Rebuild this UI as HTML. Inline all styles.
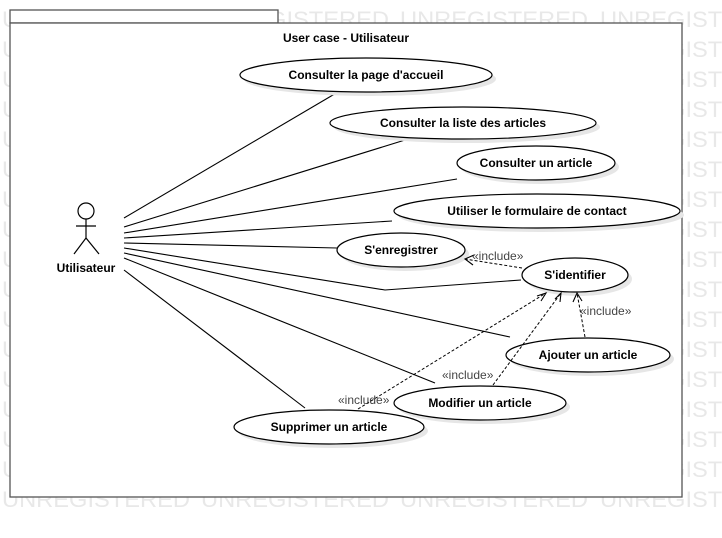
<!DOCTYPE html>
<html><head><meta charset="utf-8"><style>
html,body{margin:0;padding:0;background:#fff;}
svg{display:block;}
text{font-family:"Liberation Sans",Arial,sans-serif;}
.wm{fill:#e8e8e8;font-size:22px;}
.uc{fill:#fff;stroke:#000;stroke-width:1.2;}
.sh{fill:#e6e6e6;}
.lb{font-size:12px;font-weight:bold;fill:#000;text-anchor:middle;}
.as{stroke:#000;stroke-width:1.1;fill:none;}
.dp{stroke:#000;stroke-width:1;stroke-dasharray:3,2;fill:none;}
.inc{font-size:12px;fill:#444;}
</style></head><body>
<svg width="722" height="538" viewBox="0 0 722 538">
<g id="wm"></g>
<rect x="10" y="10" width="268" height="13" fill="#fff" stroke="#555" stroke-width="1.3"/>
<rect x="10" y="23" width="672" height="474" fill="#fff" stroke="#555" stroke-width="1.3"/>
<text x="346" y="42" text-anchor="middle" font-size="12" font-weight="bold">User case - Utilisateur</text>

<g stroke="#000" stroke-width="1.2" fill="none">
<circle cx="86" cy="211" r="8" fill="#fff"/>
<line x1="86" y1="219" x2="86" y2="238"/>
<line x1="76" y1="226" x2="96" y2="226"/>
<line x1="86" y1="238" x2="74" y2="254"/>
<line x1="86" y1="238" x2="99" y2="254"/>
</g>
<text x="86" y="272" class="lb">Utilisateur</text>

<g>
<line class="as" x1="124" y1="218" x2="338" y2="92"/>
<line class="as" x1="124" y1="227" x2="405" y2="140"/>
<line class="as" x1="124" y1="233" x2="457" y2="179"/>
<line class="as" x1="124" y1="238" x2="392" y2="221"/>
<line class="as" x1="124" y1="243" x2="337" y2="248"/>
<polyline class="as" points="124,248 385,290 521,280"/>
<line class="as" x1="124" y1="253" x2="510" y2="337"/>
<line class="as" x1="124" y1="258" x2="435" y2="383"/>
<line class="as" x1="124" y1="270" x2="305" y2="408"/>
</g>

<g id="ucs"></g>

<g>
<line class="dp" x1="522" y1="268" x2="465" y2="259"/>
<polyline class="as" points="474,255 465,259 473,265"/>
<text class="inc" x="472" y="260">«include»</text>
<line class="dp" x1="585" y1="337" x2="577" y2="293"/>
<polyline class="as" points="573,302 577,293 582,301"/>
<text class="inc" x="580" y="315">«include»</text>
<line class="dp" x1="493" y1="385" x2="561" y2="293"/>
<polyline class="as" points="555,299 561,293 560,302"/>
<text class="inc" x="442" y="379">«include»</text>
<line class="dp" x1="358" y1="409" x2="546" y2="293"/>
<polyline class="as" points="537,296 546,293 541,301"/>
<text class="inc" x="338" y="404">«include»</text>
</g>
</svg>
<script>
var NS="http://www.w3.org/2000/svg";
var wm=document.getElementById('wm');
var wmX=[2,201,400,600];
for(var y=27;y<=510;y+=30){
  wmX.forEach(function(x){
    var t=document.createElementNS(NS,'text');
    t.setAttribute('x',x);t.setAttribute('y',y);t.setAttribute('class','wm');
    t.setAttribute('textLength','188');
    t.setAttribute('lengthAdjust','spacingAndGlyphs');
    t.textContent='UNREGISTERED';
    
    
    wm.appendChild(t);
  });
}

var ucNames=["Consulter la page d'accueil","Consulter la liste des articles","Consulter un article","Utiliser le formulaire de contact","S'enregistrer","S'identifier","Ajouter un article","Modifier un article","Supprimer un article"];
var ucGeom=[[366,75,126,17],[463,123,133,16],[536,163,79,17],[537,211,143,17],[401,250,64,17],[575,275,53,17],[588,355,82,17],[480,403,86,17],[329,427,95,17]];
var ucs=document.getElementById('ucs');
ucNames.forEach(function(n,i){
  var g=ucGeom[i];
  var gr=document.createElementNS(NS,'g');
  
  
  var s=document.createElementNS(NS,'ellipse');
  s.setAttribute('cx',g[0]+4);s.setAttribute('cy',g[1]+4);s.setAttribute('rx',g[2]);s.setAttribute('ry',g[3]);s.setAttribute('class','sh');
  gr.appendChild(s);
  var e=document.createElementNS(NS,'ellipse');
  e.setAttribute('cx',g[0]);e.setAttribute('cy',g[1]);e.setAttribute('rx',g[2]);e.setAttribute('ry',g[3]);e.setAttribute('class','uc');
  gr.appendChild(e);
  var t=document.createElementNS(NS,'text');
  t.setAttribute('x',g[0]);t.setAttribute('y',g[1]+4);t.setAttribute('class','lb');
  t.textContent=n;
  gr.appendChild(t);
  ucs.appendChild(gr);
});
</script>
</body></html>
